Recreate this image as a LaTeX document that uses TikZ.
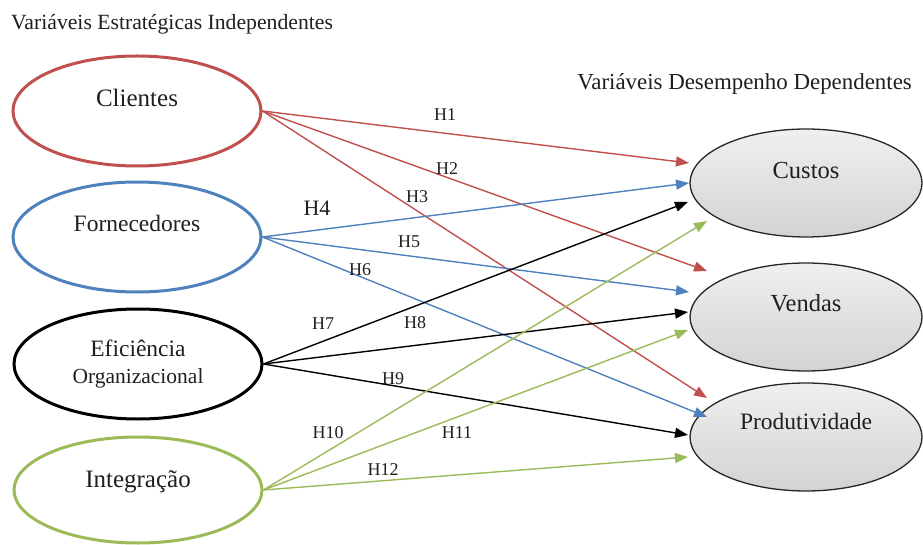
\documentclass[tikz,border=0pt]{standalone}
\usepackage{fontspec}
\setmainfont{Liberation Serif}
\usetikzlibrary{shapes.geometric,arrows.meta}
\definecolor{cred}{HTML}{C0504D}
\definecolor{cblue}{HTML}{4F81BD}
\definecolor{cgreen}{HTML}{9BBB59}
\definecolor{ctext}{HTML}{1F1F1F}
\begin{document}
\begin{tikzpicture}[x=1pt,y=-1pt,
  srcell/.style={ellipse,draw,line width=3pt,minimum width=248pt,minimum height=110pt,inner sep=0pt,text=ctext,font=\fontsize{25}{28}\selectfont},
  dstell/.style={ellipse,draw=black!85,line width=1.3pt,minimum width=232pt,minimum height=108pt,inner sep=0pt,
    top color=gray!12,bottom color=gray!35,text=ctext,font=\fontsize{24.5}{28}\selectfont},
  arr/.style={line width=1.4pt,-{Triangle[length=13pt,width=10pt]}},
  hlab/.style={font=\fontsize{18}{20}\selectfont,text=ctext,inner sep=0pt},
  ttl/.style={font=\fontsize{21.7}{24}\selectfont,text=ctext,inner sep=0pt}]
\useasboundingbox (0,0) rectangle (923,545);

% titles
\node[ttl,anchor=west] (t1) at (11,24) {Variáveis Estratégicas Independentes};
\node[ttl,anchor=east,font=\fontsize{22.9}{25}\selectfont] (t2) at (912,84) {Variáveis Desempenho Dependentes};

% source ellipses
\node[srcell,draw=cred] (cli) at (137,111) {\raisebox{26pt}{Clientes}};
\node[srcell,draw=cblue,font=\fontsize{23.5}{26}\selectfont] (for) at (137,237) {\raisebox{28pt}{Fornecedores}};
\node[srcell,draw=black] (efi) at (138,364) {\raisebox{-3pt}{\parbox{140pt}{\centering{\fontsize{23.5}{26}\selectfont Eficiência}\\[-1pt]{\fontsize{21.5}{24}\selectfont Organizacional}}}};
\node[srcell,draw=cgreen,minimum height=106pt] (int) at (138,490) {\raisebox{22pt}{Integração}};

% dependent ellipses
\node[dstell] (cus) at (806,183) {\raisebox{26pt}{Custos}};
\node[dstell] (ven) at (806,317) {\raisebox{28pt}{Vendas}};
\node[dstell,font=\fontsize{23.5}{26}\selectfont] (pro) at (806,437) {\raisebox{31pt}{Produtividade}};

% arrow tips
\coordinate (p1) at (689,163);
\coordinate (p2) at (707,271);
\coordinate (p3) at (707,398);
\coordinate (p4) at (689,183);
\coordinate (p5) at (689,292);
\coordinate (p6) at (707,417);
\coordinate (p7) at (688,202);
\coordinate (p8) at (688,312);
\coordinate (p9) at (688,435);
\coordinate (p10) at (707,221);
\coordinate (p11) at (688,330);
\coordinate (p12) at (688,457);

% connectors
\draw[arr,cred] (cli.east) -- (p1);
\draw[arr,cred] (cli.east) -- (p2);
\draw[arr,cred] (cli.east) -- (p3);
\draw[arr,cblue] (for.east) -- (p4);
\draw[arr,cblue] (for.east) -- (p5);
\draw[arr,cblue] (for.east) -- (p6);
\draw[arr,black] (efi.east) -- (p7);
\draw[arr,black] (efi.east) -- (p8);
\draw[arr,black] (efi.east) -- (p9);
\draw[arr,cgreen] (int.east) -- (p10);
\draw[arr,cgreen] (int.east) -- (p11);
\draw[arr,cgreen] (int.east) -- (p12);

% labels
\node[hlab] (h1) at (445,115) {H1};
\node[hlab] (h2) at (447,169) {H2};
\node[hlab] (h3) at (417,197) {H3};
\node[hlab,font=\fontsize{22}{24}\selectfont] (h4) at (317,208) {H4};
\node[hlab] (h5) at (409,242) {H5};
\node[hlab] (h6) at (360,270) {H6};
\node[hlab] (h7) at (323,324) {H7};
\node[hlab] (h8) at (415,323) {H8};
\node[hlab] (h9) at (393,379) {H9};
\node[hlab] (h10) at (328,433) {H10};
\node[hlab] (h11) at (457,433) {H11};
\node[hlab] (h12) at (383,470) {H12};
\end{tikzpicture}
\end{document}
